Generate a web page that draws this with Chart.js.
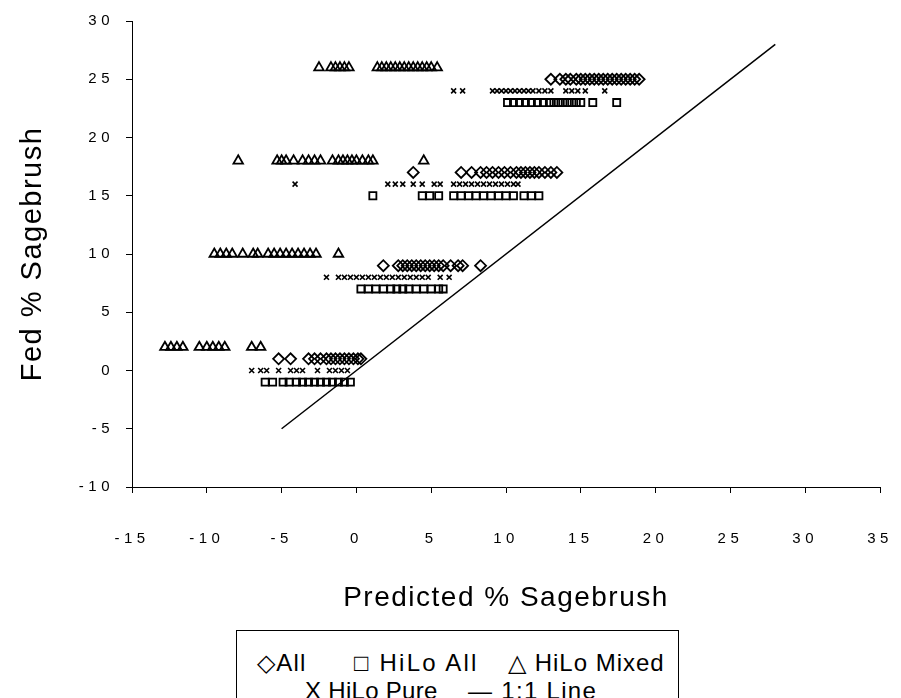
<!DOCTYPE html>
<html>
<head>
<meta charset="utf-8">
<script src="https://cdn.jsdelivr.net/npm/chart.js@4/dist/chart.umd.min.js"></script>
<style>
  html, body { margin: 0; padding: 0; background: #fff; }
  #wrap { position: relative; width: 901px; height: 698px; overflow: hidden; }
  #legend { position: absolute; left: 236px; top: 630px; width: 443px; height: 90px;
            border: 1.5px solid #000; box-sizing: border-box; background: #fff;
            font-family: "Liberation Sans", Arial, sans-serif; font-size: 24px; color: #000; }
  #legend span { position: absolute; white-space: nowrap; line-height: 28px; letter-spacing: 1.2px; }
</style>
</head>
<body>
<div id="wrap">
  <canvas id="c" width="901" height="698"></canvas>
  <div id="legend">
    <span style="left:20px;top:18px">◇All</span>
    <span style="left:117px;top:18px;letter-spacing:2.2px">□ HiLo All</span>
    <span style="left:271px;top:18px;letter-spacing:1px">△ HiLo Mixed</span>
    <span style="left:68px;top:46px;letter-spacing:0.3px">X HiLo Pure</span>
    <span style="left:231px;top:46px;letter-spacing:1.3px">— 1:1 Line</span>
  </div>
</div>
<script>
// ---- Data (Predicted % Sagebrush values per Fed % level) ----
const xTicks = [-15, -10, -5, 0, 5, 10, 15, 20, 25, 30, 35];
const yTicks = [-10, -5, 0, 5, 10, 15, 20, 25, 30];

// "All" (diamonds)
const allFed = [25, 17, 9, 1];
const allX25 = [13.0, 13.6, 14.0, 14.3, 14.7, 15.0, 15.3, 15.6, 15.9, 16.2, 16.5, 16.8, 17.1, 17.4, 17.7, 18.0, 18.3, 18.6, 18.9];
const allX17 = [3.8, 7.0, 7.7, 8.3, 8.7, 9.1, 9.5, 9.9, 10.3, 10.7, 11.0, 11.3, 11.6, 11.9, 12.2, 12.6, 13.0, 13.4];
const allX9  = [1.8, 2.8, 3.1, 3.4, 3.7, 4.0, 4.3, 4.6, 4.9, 5.2, 5.5, 5.8, 6.3, 6.8, 7.1, 8.3];
const allX1  = [-5.2, -4.4, -3.2, -2.8, -2.4, -2.0, -1.7, -1.4, -1.1, -0.8, -0.5, -0.2, 0.1, 0.3];

// "HiLo All" (squares)
const hiloAllFed = [23, 15, 7, -1];
const hiloAllX23 = [10.1, 10.5, 10.9, 11.3, 11.7, 12.1, 12.5, 12.9, 13.2, 13.5, 13.8, 14.1, 14.4, 14.7, 15.0, 15.8, 17.4];
const hiloAllX15 = [1.1, 4.4, 4.9, 5.5, 6.5, 7.0, 7.5, 8.0, 8.5, 9.0, 9.5, 10.0, 10.5, 11.2, 11.7, 12.2];
const hiloAllX7  = [0.3, 0.8, 1.3, 1.8, 2.3, 2.7, 3.1, 3.5, 4.0, 4.5, 5.0, 5.5, 5.8];
const hiloAllXm1 = [-6.1, -5.6, -4.9, -4.5, -4.0, -3.6, -3.2, -2.8, -2.4, -2.0, -1.6, -1.2, -0.8, -0.4];

// "HiLo Mixed" (triangles)
const mixedFed = [26, 18, 10, 2];
const mixedX26 = [-2.5, -1.7, -1.4, -1.1, -0.8, -0.5, 1.4, 1.7, 2.0, 2.3, 2.6, 2.9, 3.2, 3.5, 3.8, 4.1, 4.4, 4.7, 5.0, 5.4];
const mixedX18 = [-7.9, -5.3, -5.0, -4.7, -4.2, -3.6, -3.2, -2.8, -2.4, -1.6, -1.2, -0.9, -0.6, -0.3, 0.0, 0.4, 0.8, 1.1, 4.5];
const mixedX10 = [-9.5, -9.1, -8.7, -8.3, -7.6, -6.9, -6.6, -5.9, -5.5, -5.1, -4.7, -4.3, -3.9, -3.5, -3.1, -2.7, -1.2];
const mixedX2  = [-12.8, -12.4, -12.0, -11.6, -10.5, -10.0, -9.6, -9.2, -8.8, -7.0, -6.4];

// "HiLo Pure" (x marks)
const pureFed = [24, 16, 8, 0];
const pureX24 = [6.5, 7.1, 9.1, 9.4, 9.7, 10.0, 10.3, 10.6, 10.9, 11.2, 11.5, 11.8, 12.2, 12.6, 13.0, 14.0, 14.4, 14.8, 15.3, 16.6];
const pureX16 = [-4.1, 2.1, 2.6, 3.1, 3.8, 4.4, 5.2, 5.6, 6.5, 6.9, 7.3, 7.7, 8.1, 8.5, 8.9, 9.3, 9.7, 10.1, 10.5, 10.8];
const pureX8  = [-2.0, -1.2, -0.8, -0.4, 0.0, 0.4, 0.8, 1.2, 1.6, 2.0, 2.4, 2.8, 3.2, 3.6, 4.0, 4.4, 4.8, 5.6, 6.2];
const pureX0  = [-7.0, -6.4, -6.0, -5.2, -4.4, -4.0, -3.6, -2.6, -1.8, -1.4, -1.0, -0.6];

// 1:1 line end points
const lineX = [-5, 28];
const lineY = [-5, 28];

// ---- build points ----
function rows(fed, xsList) {
  const pts = [];
  fed.forEach((y, i) => xsList[i].forEach(x => pts.push({ x: x, y: y })));
  return pts;
}
const allPts = rows(allFed, [allX25, allX17, allX9, allX1]);
const hiloAllPts = rows(hiloAllFed, [hiloAllX23, hiloAllX15, hiloAllX7, hiloAllXm1]);
const mixedPts = rows(mixedFed, [mixedX26, mixedX18, mixedX10, mixedX2]);
const purePts = rows(pureFed, [pureX24, pureX16, pureX8, pureX0]);
const linePts = lineX.map((x, i) => ({ x: x, y: lineY[i] }));

const FAM = '"Liberation Sans", Arial, sans-serif';
const tickFont = { family: FAM, size: 15 };

// letter spacing: titles (drawn before datasets) and tick labels (drawn after, z:1)
const spacingPlugin = {
  id: 'spacing',
  beforeDraw(chart) { chart.ctx.letterSpacing = '1.5px'; },
  beforeDatasetsDraw(chart) { chart.ctx.letterSpacing = '0px'; },
  afterDatasetsDraw(chart) { chart.ctx.letterSpacing = '4.5px'; },
  afterDraw(chart) { chart.ctx.letterSpacing = '0px'; }
};

function marker(style, r, bw) {
  return {
    type: 'scatter', showLine: false,
    pointStyle: style, pointRadius: r, pointHoverRadius: r,
    borderColor: '#000', backgroundColor: 'rgba(0,0,0,0)', pointBorderWidth: bw
  };
}

new Chart(document.getElementById('c'), {
  type: 'scatter',
  data: {
    datasets: [
      Object.assign({ label: 'All', data: allPts }, marker('rectRot', 5.5, 1.8)),
      Object.assign({ label: 'HiLo All', data: hiloAllPts }, marker('rect', 5, 1.8)),
      Object.assign({ label: 'HiLo Mixed', data: mixedPts }, marker('triangle', 5.5, 1.8)),
      Object.assign({ label: 'HiLo Pure', data: purePts }, marker('crossRot', 3.5, 1.6)),
      { type: 'line', label: '1:1 Line', data: linePts, borderColor: '#000', borderWidth: 1.5,
        pointRadius: 0, fill: false, tension: 0 }
    ]
  },
  options: {
    responsive: false,
    animation: false,
    events: [],
    layout: { padding: { left: 0, right: 21, top: 21, bottom: 0 } },
    plugins: { legend: { display: false }, tooltip: { enabled: false } },
    scales: {
      x: {
        type: 'linear', min: -15, max: 35,
        afterBuildTicks(scale) { scale.ticks = xTicks.map(v => ({ value: v })); },
        afterFit(scale) { scale.height = 211; scale.paddingLeft = 0; scale.paddingRight = 0; },
        grid: { display: true, drawOnChartArea: false, drawTicks: true, tickLength: 6, color: '#000', lineWidth: 1 },
        border: { display: true, color: '#000', width: 1 },
        ticks: { color: '#000', font: tickFont, padding: 37, maxRotation: 0, z: 1 },
        title: { display: true, text: 'Predicted % Sagebrush', color: '#000', font: { family: FAM, size: 28 }, padding: { top: 0, bottom: 83 } }
      },
      y: {
        type: 'linear', min: -10, max: 30,
        afterBuildTicks(scale) { scale.ticks = yTicks.map(v => ({ value: v })); },
        afterFit(scale) { scale.width = 132; scale.paddingTop = 0; scale.paddingBottom = 0; },
        grid: { display: true, drawOnChartArea: false, drawTicks: true, tickLength: 6, color: '#000', lineWidth: 1 },
        border: { display: true, color: '#000', width: 1 },
        ticks: { color: '#000', font: tickFont, padding: 12, z: 1 },
        title: { display: true, text: 'Fed % Sagebrush', color: '#000', font: { family: FAM, size: 29 }, padding: { top: 16, bottom: 0 } }
      }
    }
  },
  plugins: [spacingPlugin]
});
</script>
</body>
</html>
